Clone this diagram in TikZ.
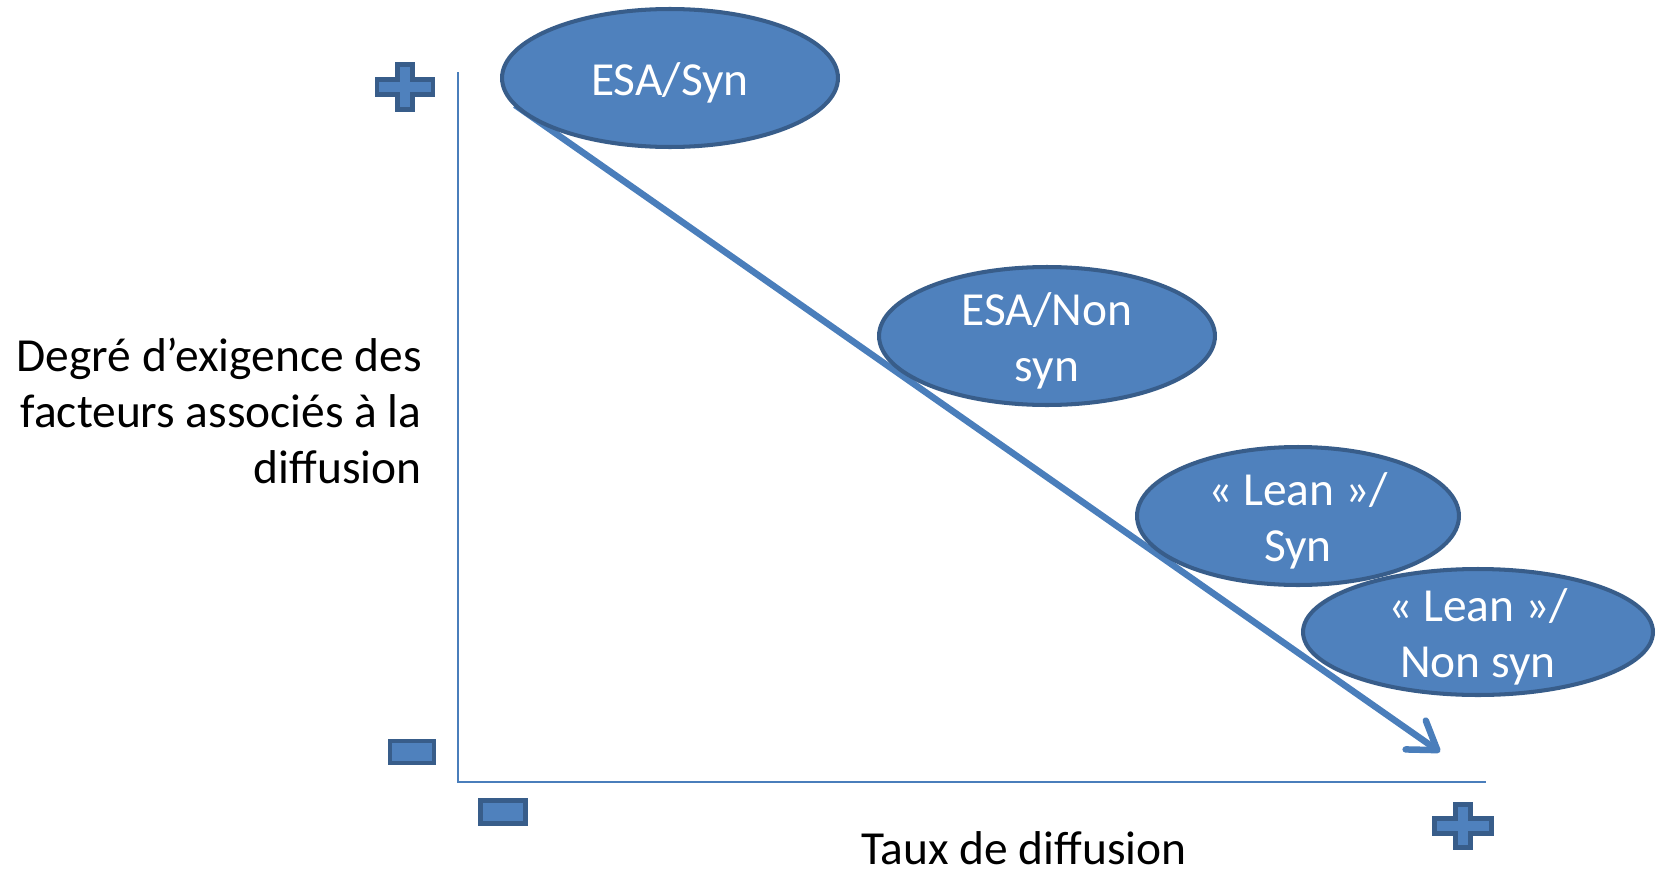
\documentclass[tikz,border=0pt]{standalone}
\usepackage{fontspec}
\setmainfont{Carlito}
\usetikzlibrary{shapes.geometric,arrows.meta,positioning}
\definecolor{officeblue}{HTML}{4F81BD}
\definecolor{officeline}{HTML}{4A7EBB}
\definecolor{officedark}{HTML}{385D8A}

\begin{document}
\begin{tikzpicture}[x=0.02cm, y=-0.02cm]
% Define styles
\tikzset{
  groupe/.style={ellipse, draw=officedark, line width=2.3pt, fill=officeblue, inner sep=0pt},
  bulle/.style={text=white, align=center, font=\fontsize{27}{32}\selectfont, inner sep=0pt, yshift=-0.1cm},
  axe/.style={draw=officeline, line width=1.5pt},
  fleche/.style={draw=officeline, line width=3.7pt, -{Straight Barb[round, length=15pt, width=20pt]}},
  signe/.style={draw=officedark, line width=2.6pt, fill=officeblue},
  etiquette/.style={font=\fontsize{27}{32}\selectfont, inner sep=0pt}
}
\useasboundingbox (0,0) rectangle (1661,872);

% Axes
\coordinate (origine) at (458,782);
\coordinate (haut) at (458,72);
\coordinate (droite) at (1486,782);
\draw [axe] (haut) -- (origine) -- (droite);

% Main arrow
\coordinate (arrowstart) at (515,105);
\coordinate (arrowend) at (1440,752);
\draw [fleche] (arrowstart) -- (arrowend);

% Ellipses
\node (esasyn) [groupe, minimum width=6.72cm, minimum height=2.76cm, label={[bulle]center:ESA/Syn}] at (670,78) {};
\node (esanon) [groupe, minimum width=6.72cm, minimum height=2.76cm, label={[bulle]center:{ESA/Non\\syn}}] at (1047,336) {};
\node (leansyn) [groupe, minimum width=6.44cm, minimum height=2.76cm, label={[bulle]center:{« Lean »/\\Syn}}] at (1298,516) {};
\node (leannon) [groupe, minimum width=7.0cm, minimum height=2.52cm, label={[bulle]center:{« Lean »/\\Non syn}}] at (1478,632) {};

% Plus and minus signs
\draw [signe] (405,87) ++(-7.5,-22.5) -- ++(15,0) -- ++(0,15) -- ++(20.5,0) -- ++(0,15) -- ++(-20.5,0) -- ++(0,15) -- ++(-15,0) -- ++(0,-15) -- ++(-20.5,0) -- ++(0,-15) -- ++(20.5,0) -- cycle;
\draw [signe] (1463,826) ++(-7.5,-21.5) -- ++(15,0) -- ++(0,14) -- ++(21,0) -- ++(0,15) -- ++(-21,0) -- ++(0,14) -- ++(-15,0) -- ++(0,-14) -- ++(-21,0) -- ++(0,-15) -- ++(21,0) -- cycle;
\node (moinsy) [signe, rectangle, minimum width=0.88cm, minimum height=0.44cm, inner sep=0pt] at (412,752) {};
\node (moinsx) [signe, rectangle, minimum width=0.9cm, minimum height=0.46cm, inner sep=0pt] at (503,812) {};

% Labels
\node (degre) [etiquette, anchor=east, align=right] at (422,411) {Degré d’exigence des\\facteurs associés à la\\diffusion};
\node (taux) [etiquette, anchor=base, text depth=0pt] at (1024,864) {Taux de diffusion};
\end{tikzpicture}
\end{document}
